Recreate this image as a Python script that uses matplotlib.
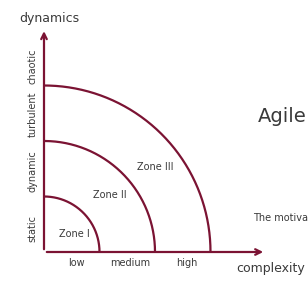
import numpy as np
import matplotlib
matplotlib.use("Agg")
from matplotlib import pyplot as plt

plt.rcParams["font.family"] = ["DejaVu Sans"]

radii = [1, 2, 3]
zone_labels = ["Zone I", "Zone II", "Zone III"]
zone_pos = [(0.54, 0.32), (1.19, 1.03), (2.0, 1.53)]
x_ticks = ["low", "medium", "high"]
x_tick_pos = [0.58, 1.55, 2.58]
y_ticks = ["static", "dynamic", "turbulent", "chaotic"]
y_tick_pos = [0.43, 1.46, 2.49, 3.35]

unit = 55.5
ox, oy = 44, 252
maroon = "#7b1333"
ink = "#3a3a3a"

fig = plt.figure(figsize=(3.08, 2.82), dpi=100)
ax = fig.add_axes([0, 0, 1, 1])
ax.set_xlim(-ox / unit, (308 - ox) / unit)
ax.set_ylim(-(282 - oy) / unit, oy / unit)
ax.axis("off")

t = np.linspace(0, np.pi / 2, 200)
for r in radii:
    ax.plot(r * np.cos(t), r * np.sin(t), color=maroon, lw=1.6, solid_capstyle="butt")

ax.annotate("", xy=(4.0, 0), xytext=(0, 0),
            arrowprops=dict(arrowstyle="->", color=maroon, lw=1.6, mutation_scale=10))
ax.annotate("", xy=(0, 4.03), xytext=(0, 0),
            arrowprops=dict(arrowstyle="->", color=maroon, lw=1.6, mutation_scale=10))

for lab, (x, y) in zip(zone_labels, zone_pos):
    ax.text(x, y, lab, fontsize=7, color=ink, ha="center", va="center")

for lab, x in zip(x_ticks, x_tick_pos):
    ax.text(x, -0.2, lab, fontsize=7, color=ink, ha="center", va="center")

for lab, y in zip(y_ticks, y_tick_pos):
    ax.text(-0.2, y, lab, fontsize=7, color=ink, ha="center", va="center", rotation=90)

ax.text(0.09, 4.2, "dynamics", fontsize=9, color=ink, ha="center", va="center")
ax.text(4.09, -0.29, "complexity", fontsize=9, color=ink, ha="center", va="center")
ax.text(3.86, 2.45, "Agile", fontsize=14, color=ink, ha="left", va="center")
ax.text(3.77, 0.61, "The motiva", fontsize=7, color=ink, ha="left", va="center")

fig.savefig("out.png", dpi=100)
